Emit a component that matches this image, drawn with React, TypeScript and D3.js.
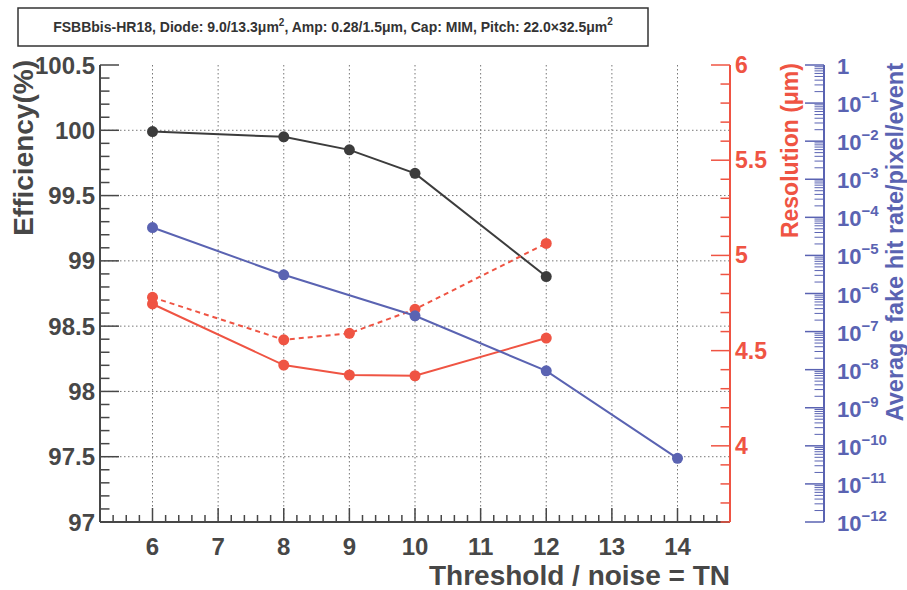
import React from "react";
import * as d3 from "d3";

const tnEff = [6, 8, 9, 10, 12];
const efficiency = [99.99, 99.95, 99.85, 99.67, 98.88];
const tnRes = [6, 8, 9, 10, 12];
const resolutionSolid = [4.745, 4.424, 4.372, 4.368, 4.566];
const resolutionDashed = [4.78, 4.557, 4.591, 4.717, 5.063];
const tnFake = [6, 8, 10, 12, 14];
const fakeRate = [5.4e-5, 3.1e-6, 2.6e-7, 9.3e-9, 4.7e-11];

const xTicks = [6, 7, 8, 9, 10, 11, 12, 13, 14];
const effTicks = [97, 97.5, 98, 98.5, 99, 99.5, 100, 100.5];
const resTicks = [4, 4.5, 5, 5.5, 6];
const fakeExps = [0, -1, -2, -3, -4, -5, -6, -7, -8, -9, -10, -11, -12];

const titleText = "FSBBbis-HR18, Diode: 9.0/13.3\u03bcm";
const C_BLACK = "#3c3c3c";
const C_RED = "#ef5443";
const C_BLUE = "#5a63b2";
const C_AX = "#474747";

export default function App() {
  const L = 100, R = 730, T = 65, B = 522;
  const x = d3.scaleLinear().domain([5.2, 14.8]).range([L, R]);
  const yE = d3.scaleLinear().domain([97, 100.5]).range([B, T]);
  const yR = d3.scaleLinear().domain([3.6, 6]).range([B, T]);
  const yF = d3.scaleLog().domain([1e-12, 1]).range([B, T]);
  const BX = 824;
  const font = "Liberation Sans, Arial, sans-serif";

  const lineE = d3.line<number>().x((_, i) => x(tnEff[i])).y((d) => yE(d));
  const lineR = d3.line<number>().x((_, i) => x(tnRes[i])).y((d) => yR(d));
  const lineF = d3.line<number>().x((_, i) => x(tnFake[i])).y((d) => yF(d));

  const xMinor = d3.range(5.2, 14.81, 0.2).map((v) => Math.round(v * 10) / 10);
  const effMinor = d3.range(97, 100.51, 0.1).map((v) => Math.round(v * 10) / 10);
  const resMinor = d3.range(3.6, 6.01, 0.1).map((v) => Math.round(v * 10) / 10);
  const fakeMinor: number[] = [];
  for (let e = -12; e < 0; e++) for (let k = 2; k <= 9; k++) fakeMinor.push(k * Math.pow(10, e));

  return (
    <svg width={907} height={590} style={{ position: "absolute", left: 0, top: 0, background: "#fff" }} fontFamily={font}>
      {/* title box */}
      <rect x={18} y={8} width={630} height={38} fill="#fff" stroke="#333" strokeWidth={1.5} />
      <text x={333} y={32} textAnchor="middle" fontSize={14} fontWeight="bold" fill="#333">
        {titleText}
        <tspan dy={-6} fontSize={10}>2</tspan>
        <tspan dy={6}>, Amp: 0.28/1.5{"\u03bc"}m, Cap: MIM, Pitch: 22.0{"\u00d7"}32.5{"\u03bc"}m</tspan>
        <tspan dy={-7} fontSize={10}>2</tspan>
      </text>

      {/* grid */}
      {xTicks.map((t) => (
        <line key={"gx" + t} x1={x(t)} x2={x(t)} y1={T} y2={B} stroke="#777" strokeWidth={1} strokeDasharray="1.5,2.5" />
      ))}
      {effTicks.slice(1, -1).map((t) => (
        <line key={"gy" + t} x1={L} x2={R} y1={yE(t)} y2={yE(t)} stroke="#777" strokeWidth={1} strokeDasharray="1.5,2.5" />
      ))}

      {/* left axis */}
      {effMinor.map((t) => {
        const major = effTicks.some((m) => Math.abs(m - t) < 1e-6);
        return <line key={"le" + t} x1={L} x2={L + (major ? 19 : 9.5)} y1={yE(t)} y2={yE(t)} stroke={C_AX} strokeWidth={1.5} />;
      })}
      <line x1={L} x2={L} y1={T} y2={B} stroke={C_AX} strokeWidth={2} />
      {effTicks.map((t) => (
        <text key={"lt" + t} x={95} y={yE(t) + 8.5} textAnchor="end" fontSize={24} fontWeight="bold" fill={C_AX}>
          {t}
        </text>
      ))}
      <text transform={`translate(33,${T - 5}) rotate(-90)`} textAnchor="end" fontSize={28} fontWeight="bold" fill={C_AX}>
        Efficiency(%)
      </text>

      {/* bottom axis */}
      {xMinor.map((t) => {
        const major = Math.abs(t - Math.round(t)) < 1e-6;
        return <line key={"bx" + t} x1={x(t)} x2={x(t)} y1={B} y2={B - (major ? 14 : 7)} stroke={C_AX} strokeWidth={1.5} />;
      })}
      <line x1={L} x2={R} y1={B} y2={B} stroke={C_AX} strokeWidth={2} />
      {xTicks.map((t) => (
        <text key={"xt" + t} x={x(t)} y={555} textAnchor="middle" fontSize={24} fontWeight="bold" fill={C_AX}>
          {t}
        </text>
      ))}
      <text x={R} y={585} textAnchor="end" fontSize={28} fontWeight="bold" fill={C_AX}>
        Threshold / noise = TN
      </text>

      {/* red axis */}
      {resMinor.map((t) => {
        const major = resTicks.some((m) => Math.abs(m - t) < 1e-6);
        return <line key={"rr" + t} x1={R} x2={R - (major ? 19 : 9.5)} y1={yR(t)} y2={yR(t)} stroke={C_RED} strokeWidth={1.5} />;
      })}
      <line x1={R} x2={R} y1={T} y2={B} stroke={C_RED} strokeWidth={2} />
      {resTicks.map((t) => (
        <text key={"rt" + t} x={735} y={yR(t) + 8} fontSize={23} fontWeight="bold" fill={C_RED}>
          {t}
        </text>
      ))}
      <text transform={`translate(798,${T - 2}) rotate(-90)`} textAnchor="end" fontSize={23} fontWeight="bold" fill={C_RED}>
        Resolution ({"\u03bc"}m)
      </text>

      {/* blue axis */}
      {fakeMinor.map((t, i) => (
        <line key={"bm" + i} x1={BX} x2={BX - 9.5} y1={yF(t)} y2={yF(t)} stroke={C_BLUE} strokeWidth={1} />
      ))}
      {fakeExps.map((e) => (
        <line key={"bM" + e} x1={BX} x2={BX - 19} y1={yF(Math.pow(10, e))} y2={yF(Math.pow(10, e))} stroke={C_BLUE} strokeWidth={1.5} />
      ))}
      <line x1={BX} x2={BX} y1={T} y2={B} stroke={C_BLUE} strokeWidth={2} />
      {fakeExps.map((e) => (
        <text key={"bl" + e} x={837} y={yF(Math.pow(10, e)) + 9} fontSize={22} fontWeight="bold" fill={C_BLUE}>
          {e === 0 ? "1" : "10"}
          {e !== 0 && (
            <tspan dy={-10} fontSize={15}>
              {"\u2212" + Math.abs(e)}
            </tspan>
          )}
        </text>
      ))}
      <text transform={`translate(903,${T - 2}) rotate(-90)`} textAnchor="end" fontSize={23.5} fontWeight="bold" fill={C_BLUE}>
        Average fake hit rate/pixel/event
      </text>

      {/* series */}
      <path d={lineE(efficiency) || ""} fill="none" stroke={C_BLACK} strokeWidth={2} />
      <path d={lineR(resolutionSolid) || ""} fill="none" stroke={C_RED} strokeWidth={2} />
      <path d={lineR(resolutionDashed) || ""} fill="none" stroke={C_RED} strokeWidth={2} strokeDasharray="5,4" />
      <path d={lineF(fakeRate) || ""} fill="none" stroke={C_BLUE} strokeWidth={2} />
      {efficiency.map((d, i) => (
        <circle key={"pe" + i} cx={x(tnEff[i])} cy={yE(d)} r={5.5} fill={C_BLACK} />
      ))}
      {resolutionSolid.map((d, i) => (
        <circle key={"ps" + i} cx={x(tnRes[i])} cy={yR(d)} r={5.5} fill={C_RED} />
      ))}
      {resolutionDashed.map((d, i) => (
        <circle key={"pd" + i} cx={x(tnRes[i])} cy={yR(d)} r={5.5} fill={C_RED} />
      ))}
      {fakeRate.map((d, i) => (
        <circle key={"pf" + i} cx={x(tnFake[i])} cy={yF(d)} r={5.5} fill={C_BLUE} />
      ))}
    </svg>
  );
}
